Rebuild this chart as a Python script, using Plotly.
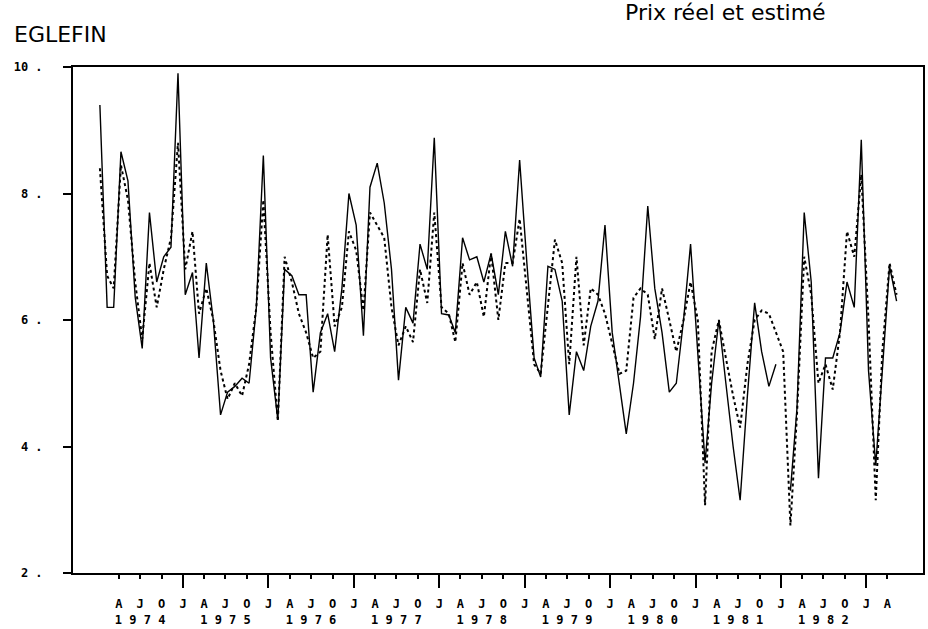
import pandas as pd
import plotly.graph_objects as go

# Monthly haddock price, Jan 1974 onward: real (solid) and estimated (dotted)
start_month = "1974-01-01"
prix_reel = [
    9.4, 6.2, 6.2, 8.66, 8.2, 6.36, 5.55, 7.7, 6.6, 7.0,
    7.15, 9.9, 6.4, 6.75, 5.4, 6.9, 6.0, 4.5, 4.86, 4.95,
    5.08, 5.0, 6.2, 8.6, 5.4, 4.42, 6.8, 6.7, 6.4, 6.4,
    4.86, 5.8, 6.1, 5.5, 6.5, 8.0, 7.5, 5.75, 8.1, 8.48,
    7.85, 6.8, 5.05, 6.2, 5.95, 7.2, 6.8, 8.88, 6.1, 6.08,
    5.8, 7.3, 6.95, 7.0, 6.6, 7.05, 6.4, 7.4, 6.85, 8.53,
    6.9, 5.4, 5.1, 6.85, 6.8, 6.3, 4.5, 5.5, 5.2, 5.9,
    6.3, 7.5, 5.8, 5.0, 4.2, 5.0, 6.05, 7.8, 6.5, 5.8,
    4.86, 5.0, 6.0, 7.2, 5.5, 3.74, 5.0, 6.0, 5.0, 4.0,
    3.15, 4.8, 6.27, 5.5, 4.95, 5.3, None, 3.3, 4.6, 7.7,
    6.6, 3.5, 5.4, 5.4, 5.8, 6.6, 6.2, 8.85, 5.2, 3.7,
    5.2, 6.85, 6.3,
]
prix_estime = [
    8.4, 6.7, 6.5, 8.45, 7.9, 6.6, 5.7, 6.9, 6.2, 6.8,
    7.3, 8.8, 6.8, 7.4, 6.1, 6.5, 6.0, 5.2, 4.75, 5.0,
    4.8, 5.3, 6.2, 7.9, 5.8, 4.4, 7.0, 6.6, 6.1, 5.8,
    5.4, 5.5, 7.35, 5.9, 6.2, 7.4, 7.1, 6.15, 7.7, 7.5,
    7.3, 6.2, 5.6, 5.9, 5.65, 6.8, 6.27, 7.7, 6.2, 6.1,
    5.65, 6.9, 6.4, 6.6, 6.05, 7.05, 6.0, 6.9, 6.9, 7.6,
    6.4, 5.3, 5.15, 6.2, 7.27, 6.9, 5.3, 7.0, 5.6, 6.5,
    6.4, 6.1, 5.6, 5.15, 5.2, 6.35, 6.5, 6.4, 5.7, 6.5,
    6.0, 5.5, 6.0, 6.6, 6.0, 3.07, 5.5, 6.0, 5.4, 4.8,
    4.3, 5.3, 6.0, 6.15, 6.1, 5.8, 5.5, 2.75, 4.5, 7.0,
    6.4, 5.0, 5.3, 4.9, 5.8, 7.4, 7.0, 8.3, 6.0, 3.15,
    5.5, 6.9, 6.4,
]
y_ticks = [2, 4, 6, 8, 10]
y_tick_labels = ["2 .", "4 .", "6 .", "8 .", "10 ."]
quarter_letters = {1: "J", 4: "A", 7: "J", 10: "O"}
years = [1974, 1975, 1976, 1977, 1978, 1979, 1980, 1981, 1982]

n = len(prix_reel)
dates = pd.date_range(start=start_month, periods=n, freq="MS") + pd.Timedelta(days=9)

quarters = pd.date_range("1974-04-01", "1983-04-01", freq="QS-JAN")
tick_text = []
for d in quarters:
    t = quarter_letters[d.month]
    if d.month == 7 and d.year in years:
        t = t + "<br>" + " ".join(str(d.year))
    tick_text.append(t)
jan_ticks = [d for d in quarters if d.month == 1]

fig = go.Figure()
fig.add_trace(go.Scatter(
    x=dates, y=prix_estime, mode="lines",
    line=dict(color="black", width=2, dash="dot"),
    showlegend=False, hoverinfo="skip"))
fig.add_trace(go.Scatter(
    x=dates, y=prix_reel, mode="lines",
    line=dict(color="black", width=1.4),
    connectgaps=False, showlegend=False, hoverinfo="skip"))
fig.add_trace(go.Scatter(
    x=[dates[0]], y=[None], xaxis="x2", mode="lines",
    showlegend=False, hoverinfo="skip"))

tick_font = dict(family="DejaVu Sans Mono", size=12, color="black", weight="bold")
xrange = ["1973-09-17", "1983-08-31"]
fig.update_layout(
    width=928, height=629,
    margin=dict(l=73, r=5, t=67, b=56),
    paper_bgcolor="white", plot_bgcolor="white",
    xaxis=dict(
        type="date", range=xrange, automargin=False, tickangle=0,
        tickmode="array", tickvals=list(quarters), ticktext=tick_text,
        ticks="outside", ticklen=4, tickwidth=1.5, tickcolor="black",
        showline=True, linecolor="black", linewidth=2, mirror=True,
        showgrid=False, zeroline=False,
        tickfont=tick_font,
        ticklabelstandoff=15,
    ),
    xaxis2=dict(
        type="date", range=xrange, overlaying="x", anchor="y", side="bottom",
        automargin=False,
        tickmode="array", tickvals=jan_ticks,
        ticks="outside", ticklen=14, tickwidth=1.5, tickcolor="black",
        showticklabels=False, showline=False, showgrid=False, zeroline=False,
    ),
    yaxis=dict(
        range=[2, 10], automargin=False,
        tickmode="array", tickvals=y_ticks, ticktext=y_tick_labels,
        ticks="outside", ticklen=8, tickwidth=1.5, tickcolor="black",
        showline=True, linecolor="black", linewidth=2, mirror=True,
        showgrid=False, zeroline=False,
        tickfont=tick_font,
        ticklabelstandoff=18,
    ),
    annotations=[
        dict(text="EGLEFIN", xref="paper", yref="paper", x=-0.072, y=1.064,
             xanchor="left", yanchor="middle", showarrow=False,
             font=dict(family="DejaVu Sans", size=22, color="black")),
        dict(text="Prix réel et estimé", xref="paper", yref="paper", x=0.768, y=1.107,
             xanchor="center", yanchor="middle", showarrow=False,
             font=dict(family="DejaVu Sans", size=22, color="black")),
    ],
)

fig.write_html("out.html")
